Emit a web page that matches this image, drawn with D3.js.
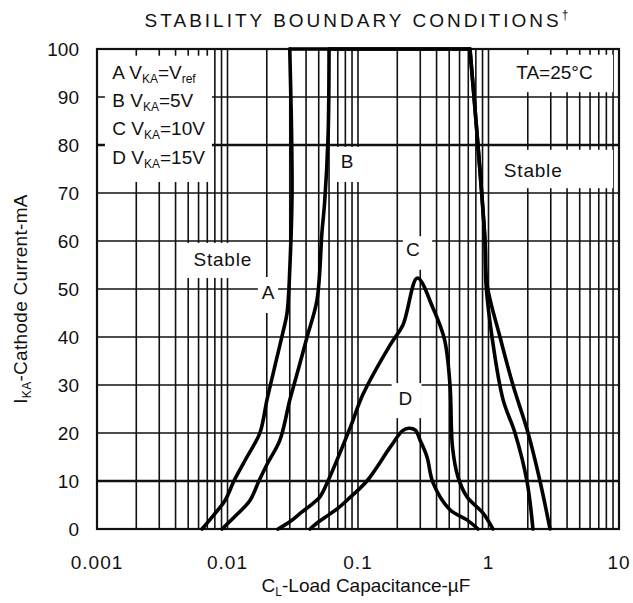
<!DOCTYPE html>
<html>
<head>
<meta charset="utf-8">
<script src="https://cdn.jsdelivr.net/npm/d3@7"></script>
<style>
  body { margin: 0; background: #fff; }
  text { font-family: Arial, "Liberation Sans", sans-serif; fill: #111; }
</style>
</head>
<body>
<div id="chart"></div>
<script>
// ---------------- data ----------------
// each point is [capacitance uF, cathode current mA]
const curveA = [[0.00638,0],[0.0079,3],[0.0096,6],[0.0112,10],[0.0141,15],[0.0177,20],[0.0201,27],[0.0231,34],[0.0266,41],[0.0286,45],[0.0301,55],[0.0312,69],[0.031,82],[0.0303,95],[0.030,100],
                [0.721,100],[0.83,80],[0.94,60],[0.974,51],[1.225,40],[1.54,30],[2.01,20],[2.48,10],[2.96,0]]
const curveB = [[0.00908,0],[0.0118,3],[0.0149,6],[0.0174,10],[0.0201,13.5],[0.0252,18.5],[0.0301,27],[0.0355,34],[0.0407,40],[0.0485,47.7],[0.053,62],[0.0555,68],[0.059,82],[0.060,100],
                [0.721,100],[0.83,80],[0.94,60],[0.957,51],[1.064,40],[1.291,27],[1.596,20],[1.97,10],[2.19,0]]
const curveC = [[0.0244,0],[0.030,1.5],[0.037,3.5],[0.045,5.3],[0.0511,6.7],[0.0589,10],[0.0868,21],[0.109,28],[0.176,38.3],[0.221,42.5],[0.285,52.3],
                [0.376,46],[0.46,39.5],[0.507,30],[0.53,17],[0.584,10.8],[0.684,6.7],[0.908,3.3],[1.082,0]]
const curveD = [[0.0429,0],[0.050,1.5],[0.060,3],[0.070,4.3],[0.0824,6],[0.117,10],[0.176,17],[0.22,20.5],[0.245,21],[0.275,20.6],
                [0.299,18.5],[0.338,15],[0.376,9.6],[0.507,4],[0.684,1.9],[0.831,0]]

const xTicks = [0.001, 0.01, 0.1, 1, 10]
const xTickLabels = ["0.001", "0.01", "0.1", "1", "10"]
const yTicks = [0, 10, 20, 30, 40, 50, 60, 70, 80, 90, 100]

// white label boxes on the grid: [x0, x1, y0, y1] in data units
const labelBoxes = [
  [0.00115, 0.0076, 72.3, 98.6],   // legend
  [1.064, 9.0, 91.0, 98.8],        // TA
  [1.064, 9.0, 71.0, 79.0],        // Stable right
  [0.0643, 0.1036, 72.3, 79.6],    // B
  [0.0047, 0.0149, 52.3, 59.6],    // Stable left
  [0.0171, 0.0244, 45.0, 52.5],    // A
  [0.221, 0.37, 54.0, 61.0],       // C
  [0.181, 0.307, 23.1, 30.4]       // D
]
// plain labels: [text, x, y]
const notes = [["Stable", 0.0092, 56.2], ["A", 0.0206, 49.4], ["B", 0.0832, 76.7],
               ["C", 0.265, 58.3], ["D", 0.232, 27.3], ["Stable", 2.2, 74.8]]

/* ______________________________ set-up ______________________________ */
const W = 633, H = 603
const margin = { left: 97, top: 49, right: 14, bottom: 74 }
const width = W - margin.left - margin.right,
      height = H - margin.top - margin.bottom
const fs = "19px", sub = "12px"

const x = d3.scaleLog().domain([0.001, 10]).range([0, width])
const y = d3.scaleLinear().domain([0, 100]).range([height, 0])

const svg = d3.select("#chart").append("svg")
    .attr("width", W).attr("height", H)
svg.append("rect").attr("width", W).attr("height", H).attr("fill", "#fff")

const g = svg.append("g").attr("transform", "translate(" + margin.left + "," + margin.top + ")")

/* ______________________________ grid ______________________________ */
const minor = []
for (let e = -3; e < 1; e++) for (let k = 1; k < 10; k++) minor.push(k * Math.pow(10, e))
minor.push(10)

g.selectAll("line.vgrid").data(minor).enter().append("line")
    .attr("class", "vgrid")
    .attr("x1", d => x(d)).attr("x2", d => x(d))
    .attr("y1", 0).attr("y2", height)
    .attr("stroke", "#111").attr("stroke-width", 1.6)

g.selectAll("line.hgrid").data(yTicks).enter().append("line")
    .attr("class", "hgrid")
    .attr("x1", 0).attr("x2", width)
    .attr("y1", d => y(d)).attr("y2", d => y(d))
    .attr("stroke", "#111")
    .attr("stroke-width", d => (d == 10 || d == 80) ? 2.6 : 1.6)

g.append("rect").attr("width", width).attr("height", height)
    .attr("fill", "none").attr("stroke", "#111").attr("stroke-width", 2.2)

// white boxes behind the labels
g.selectAll("rect.box").data(labelBoxes).enter().append("rect")
    .attr("class", "box")
    .attr("x", d => x(d[0])).attr("width", d => x(d[1]) - x(d[0]))
    .attr("y", d => y(d[3])).attr("height", d => y(d[2]) - y(d[3]))
    .attr("fill", "#fff")

/* ______________________________ curves ______________________________ */
// split every curve where it runs along the 100 mA top, so the smoothing
// does not bulge past the corners
function pieces(pts) {
  const out = []
  let cur = [pts[0]]
  for (let i = 1; i < pts.length; i++) {
    cur.push(pts[i])
    if (pts[i][1] == 100 && (i + 1 < pts.length)) { out.push(cur); cur = [pts[i]] }
  }
  out.push(cur)
  return out
}
const line = d3.line().x(d => x(d[0])).y(d => y(d[1])).curve(d3.curveCatmullRom.alpha(0.5))
const segs = [curveA, curveB, curveC, curveD].flatMap(pieces)
g.selectAll("path.curve").data(segs).enter().append("path")
    .attr("class", "curve")
    .attr("d", line)
    .attr("fill", "none").attr("stroke", "#000")
    .attr("stroke-width", 3.6).attr("stroke-linejoin", "round").attr("stroke-linecap", "round")

/* ______________________________ labels ______________________________ */
g.selectAll("text.note").data(notes).enter().append("text")
    .attr("class", "note")
    .attr("x", d => x(d[1])).attr("y", d => y(d[2]))
    .attr("text-anchor", "middle").attr("dy", "0.36em")
    .style("font-size", fs).style("letter-spacing", "0.8px")
    .text(d => d[0])

// legend
const legend = [["A V", "KA", "=V", "ref"], ["B V", "KA", "=5V", ""], ["C V", "KA", "=10V", ""], ["D V", "KA", "=15V", ""]]
const legendY = [95.2, 89.4, 83.5, 77.5]
legend.forEach(function (row, i) {
  const t = g.append("text")
      .attr("x", x(0.00131)).attr("y", y(legendY[i])).attr("dy", "0.36em")
      .style("font-size", fs)
  t.append("tspan").text(row[0])
  t.append("tspan").text(row[1]).style("font-size", sub).attr("dy", 4)
  t.append("tspan").text(row[2]).attr("dy", -4)
  if (row[3]) t.append("tspan").text(row[3]).style("font-size", sub).attr("dy", 4)
})

g.append("text").attr("x", x(3.2)).attr("y", y(95.2)).attr("dy", "0.36em")
    .attr("text-anchor", "middle").style("font-size", fs)
    .text("TA=25°C")

/* ______________________________ axes text ______________________________ */
g.selectAll("text.xt").data(xTicks).enter().append("text")
    .attr("class", "xt")
    .attr("x", d => x(d)).attr("y", height + 40)
    .attr("text-anchor", "middle").style("font-size", fs).style("letter-spacing", "1px")
    .text((d, i) => xTickLabels[i])

g.selectAll("text.yt").data(yTicks).enter().append("text")
    .attr("class", "yt")
    .attr("x", -18).attr("y", d => y(d)).attr("dy", "0.36em")
    .attr("text-anchor", "end").style("font-size", fs)
    .text(d => d)

// title
const title = svg.append("text").attr("x", margin.left + width / 2).attr("y", 27)
    .attr("text-anchor", "middle").style("font-size", fs).style("letter-spacing", "3px")
title.append("tspan").text("STABILITY BOUNDARY CONDITIONS")
title.append("tspan").text("†").style("font-size", sub).attr("dy", -8)

// x title
const xt = svg.append("text").attr("x", 366).attr("y", 592)
    .attr("text-anchor", "middle").style("font-size", fs)
xt.append("tspan").text("C")
xt.append("tspan").text("L").style("font-size", sub).attr("dy", 4)
xt.append("tspan").text("-Load Capacitance-µF").attr("dy", -4)

// y title
const yt = svg.append("text")
    .attr("transform", "translate(27," + (margin.top + height / 2 + 10) + ") rotate(-90)")
    .attr("text-anchor", "middle").style("font-size", fs).style("letter-spacing", "0.3px")
yt.append("tspan").text("I")
yt.append("tspan").text("KA").style("font-size", sub).attr("dy", 4)
yt.append("tspan").text("-Cathode Current-mA").attr("dy", -4)
</script>
</body>
</html>
